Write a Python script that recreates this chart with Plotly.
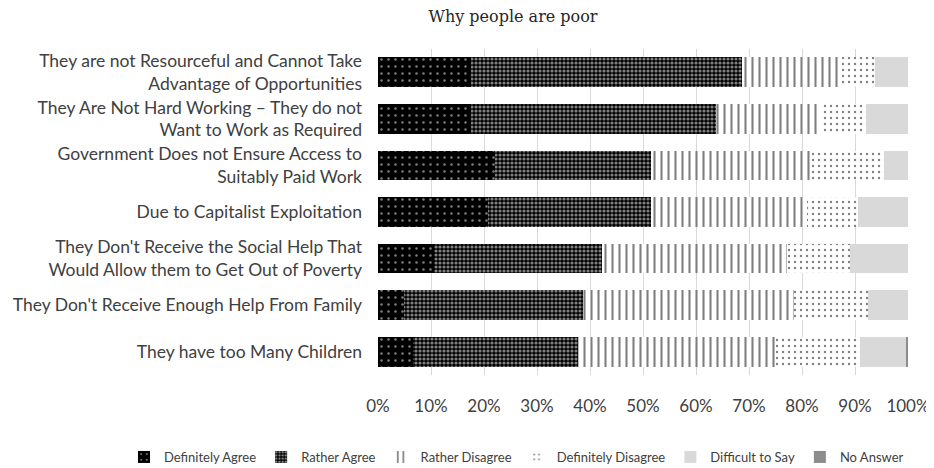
import plotly.graph_objects as go

categories = [
    "They are not Resourceful and Cannot Take<br>Advantage of Opportunities",
    "They Are Not Hard Working – They do not<br>Want to Work as Required",
    "Government Does not Ensure Access to<br>Suitably Paid Work",
    "Due to Capitalist Exploitation",
    "They Don't Receive the Social Help That<br>Would Allow them to Get Out of Poverty",
    "They Don't Receive Enough Help From Family",
    "They have too Many Children",
]

definitely_agree = [17.5, 17.5, 22.0, 20.7, 10.6, 4.9, 6.6]
rather_agree = [51.1, 46.3, 29.5, 30.8, 31.6, 33.7, 31.2]
rather_disagree = [19.0, 19.8, 30.1, 29.5, 35.0, 39.9, 37.2]
definitely_disagree = [6.1, 8.4, 13.8, 9.6, 11.9, 13.9, 15.9]
difficult_to_say = [6.3, 8.0, 4.6, 9.4, 10.9, 7.6, 8.9]
no_answer = [0.0, 0.0, 0.0, 0.0, 0.0, 0.0, 0.2]

tick_vals = [0, 10, 20, 30, 40, 50, 60, 70, 80, 90, 100]
tick_text = ["0%", "10%", "20%", "30%", "40%", "50%", "60%", "70%", "80%", "90%", "100%"]

series = [
    ("Definitely Agree", definitely_agree,
     dict(color="black", pattern=dict(shape=".", bgcolor="black", fgcolor="white", size=7, solidity=0.1))),
    ("Rather Agree", rather_agree,
     dict(color="black", pattern=dict(shape=".", bgcolor="black", fgcolor="white", size=4, solidity=0.5))),
    ("Rather Disagree", rather_disagree,
     dict(color="black", pattern=dict(shape="|", bgcolor="white", fgcolor="black", size=7, solidity=0.3))),
    ("Definitely Disagree", definitely_disagree,
     dict(color="black", pattern=dict(shape=".", bgcolor="white", fgcolor="black", size=6, solidity=0.12))),
    ("Difficult to Say", difficult_to_say, dict(color="#d9d9d9")),
    ("No Answer", no_answer, dict(color="#8c8c8c")),
]

fig = go.Figure()
for name, vals, marker in series:
    marker = dict(marker)
    marker["line"] = dict(width=0)
    fig.add_trace(go.Bar(
        name=name, x=vals, y=categories, orientation="h", marker=marker,
    ))

# page body has an 8px margin, so the figure is 8px smaller and shifted
W, H = 926, 460
L, R, T, B = 370, 26, 41, 93
PW, PH = W - L - R, H - T - B
FONT = "Lato, 'Open Sans', sans-serif"
fig.update_layout(
    barmode="stack",
    bargap=0.36,
    width=W, height=H,
    paper_bgcolor="white", plot_bgcolor="white",
    margin=dict(l=L, r=R, t=T, b=B, autoexpand=False),
    font=dict(family=FONT, size=17, color="#404040"),
    title=dict(text="Why people are poor", x=505 / W, xref="container", xanchor="center",
               y=1 - 8 / H, yref="container", yanchor="middle",
               font=dict(family="'DejaVu Serif', serif", size=16, color="#262626")),
    xaxis=dict(range=[0, 100], tickvals=tick_vals, ticktext=tick_text, showgrid=True,
               gridcolor="#d9d9d9", gridwidth=1, zeroline=False, showline=False,
               automargin=False, ticklabelstandoff=19, tickfont=dict(size=17, color="#404040")),
    yaxis=dict(autorange="reversed", showgrid=False, ticks="", ticklabelstandoff=15,
               automargin=False, tickfont=dict(size=17.5, color="#404040")),
    legend=dict(orientation="h", traceorder="normal", xref="paper", yref="paper",
                x=(116 - L) / PW, xanchor="left", y=-(449 - (H - B)) / PH, yanchor="middle",
                font=dict(size=13, color="#404040"), itemwidth=30, tracegroupgap=0),
    showlegend=True,
)

fig.write_html("out.html")
